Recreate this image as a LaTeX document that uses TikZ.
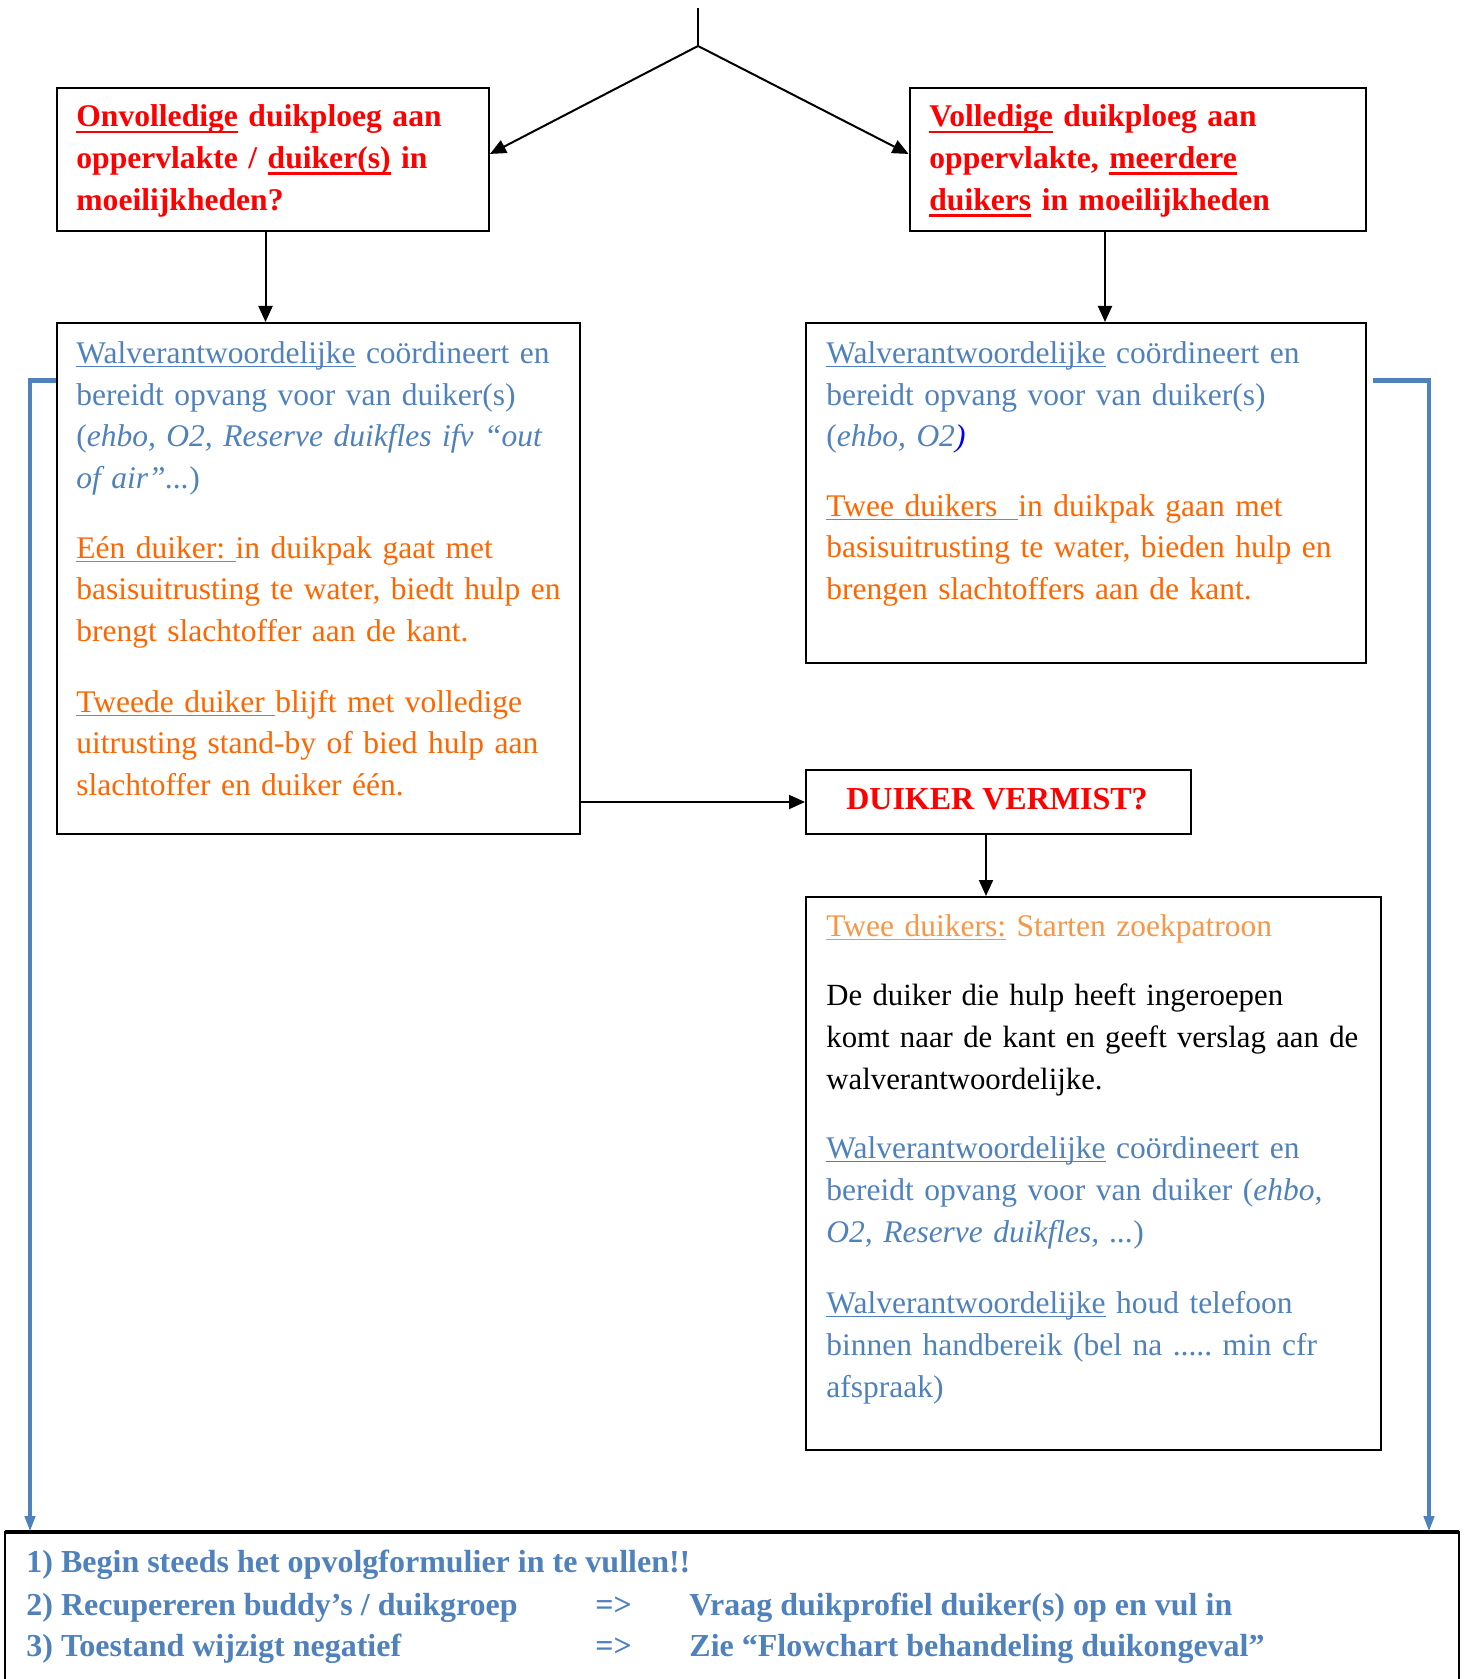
\documentclass[tikz,border=0pt]{standalone}
\usepackage{fontspec}
\setmainfont{Liberation Serif}
\usetikzlibrary{arrows.meta}
\definecolor{wblue}{HTML}{4F81BD}
\definecolor{worange}{HTML}{FF6600}
\definecolor{lorange}{HTML}{F79646}
\definecolor{wred}{HTML}{FF0000}
\definecolor{pblue}{HTML}{0000FF}
\newsavebox\myulbox
\newcommand\ulr[1]{\leavevmode\sbox\myulbox{#1}\rlap{\rule[-1.9pt]{\wd\myulbox}{0.6pt}}\usebox\myulbox}
\newcommand\ulb[1]{\leavevmode\sbox\myulbox{#1}\rlap{\rule[-3.2pt]{\wd\myulbox}{1.4pt}}\usebox\myulbox}
\tikzset{
  boxnode/.style={draw, line width=1pt, anchor=north west, inner sep=0pt},
  txt/.style={anchor=base west, inner sep=0pt, align=left, text width=295pt,
    font=\fontsize{15.75}{20.9}\selectfont\frenchspacing},
  btxt/.style={txt, text=wred, font=\fontsize{15.8}{20.9}\selectfont\bfseries\frenchspacing},
  arr/.style={line width=1pt, -{Triangle[length=8pt,width=7pt]}},
  bline/.style={draw=wblue, line width=2.2pt, -{Triangle[length=8pt,width=5pt]}},
  bt/.style={anchor=base west, inner sep=0pt, text=wblue, font=\fontsize{16}{20.9}\selectfont\bfseries}
}
\begin{document}
\begin{tikzpicture}[x=0.5pt,y=-0.5pt]
\useasboundingbox (0,0) rectangle (1464,1679);

% boxes
\node[boxnode, minimum width=216pt, minimum height=71.75pt] (b1) at (56,87) {};
\node[boxnode, minimum width=228pt, minimum height=71.75pt] (b2) at (908.5,87) {};
\node[boxnode, minimum width=261.5pt, minimum height=255.5pt] (b3) at (56,322) {};
\node[boxnode, minimum width=280pt, minimum height=170pt] (b4) at (805,322) {};
\node[boxnode, minimum width=192.5pt, minimum height=32pt] (b5) at (805,769) {};
\node[boxnode, minimum width=287.5pt, minimum height=276.5pt] (b6) at (805,896) {};
\node[anchor=north west, inner sep=0pt, minimum width=726.5pt, minimum height=73.5pt] (bot) at (5,1532) {};
\draw[line width=1pt] (bot.south west) -- (bot.north west) -- (bot.north east) -- (bot.south east);
\draw[line width=1.6pt] (bot.north west) -- (bot.north east);

% texts box 1 and 2
\node[btxt] (t1) at (76,127)
  {\ulb{Onvolledige} duikploeg aan\\oppervlakte / \ulb{duiker(s)} in\\moeilijkheden?};
\node[btxt] (t2) at (929,127)
  {\ulb{Volledige} duikploeg aan\\oppervlakte, \ulb{meerdere}\\\ulb{duikers} in moeilijkheden};

% box 3
\node[txt, text=wblue] (t3a) at (76,363.4)
  {\ulr{Walverantwoordelijke} coördineert en\\bereidt opvang voor van duiker(s)\\(\textit{ehbo, O2, Reserve duikfles ifv “out}\\\textit{of air”...})};
\node[txt, text=worange] (t3b) at (76,558)
  {\ulr{Eén duiker:\ }in duikpak gaat met\\basisuitrusting te water, biedt hulp en\\brengt slachtoffer aan de kant.};
\node[txt, text=worange] (t3c) at (76,712)
  {\ulr{Tweede duiker\ }blijft met volledige\\uitrusting stand-by of bied hulp aan\\slachtoffer en duiker één.};

% box 4
\node[txt, text=wblue] (t4a) at (826,363.3)
  {\ulr{Walverantwoordelijke} coördineert en\\bereidt opvang voor van duiker(s)\\(\textit{ehbo, O2}{\color{pblue}\textit{)}}};
\node[txt, text=worange] (t4b) at (826,516)
  {\ulr{Twee duikers\ \ }in duikpak gaan met\\basisuitrusting te water, bieden hulp en\\brengen slachtoffers aan de kant.};

% box 5
\node[inner sep=0pt, anchor=base, text=wred, font=\fontsize{16}{20.9}\selectfont\bfseries] (t5) at (997,809.4) {DUIKER VERMIST?};

% box 6
\node[txt, text=lorange] (t6a) at (826,936.6) {\ulr{Twee duikers:} Starten zoekpatroon};
\node[txt, text=black, font=\fontsize{15.4}{20.9}\selectfont\frenchspacing] (t6b) at (826,1005.8)
  {De duiker die hulp heeft ingeroepen\\komt naar de kant en geeft verslag aan de\\walverantwoordelijke.};
\node[txt, text=wblue] (t6c) at (826,1158.5)
  {\ulr{Walverantwoordelijke} coördineert en\\bereidt opvang voor van duiker (\textit{ehbo,}\\\textit{O2, Reserve duikfles, ...})};
\node[txt, text=wblue] (t6d) at (826,1313.4)
  {\ulr{Walverantwoordelijke} houd telefoon\\binnen handbereik (bel na ..... min cfr\\afspraak)};

% bottom texts
\node[bt] (l1) at (26,1572.7) {1) Begin steeds het opvolgformulier in te vullen!!};
\node[bt] (l2a) at (26,1615) {2) Recupereren buddy’s / duikgroep};
\node[bt] (l2b) at (595,1615) {=>};
\node[bt] (l2c) at (689,1615) {Vraag duikprofiel duiker(s) op en vul in};
\node[bt] (l3a) at (26,1656.7) {3) Toestand wijzigt negatief};
\node[bt] (l3b) at (595,1656.7) {=>};
\node[bt] (l3c) at (689,1656.7) {Zie “Flowchart behandeling duikongeval”};

% connectors
\coordinate (top) at (698,8);
\coordinate (fork) at (698,46);
\draw[line width=1pt] (top) -- (fork);
\draw[arr] (fork) -- ([yshift=2.9pt]b1.east);
\draw[arr] (fork) -- ([yshift=2.9pt]b2.west);
\draw[arr] ([xshift=-3.75pt]b1.south) -- ([xshift=-3.75pt]b1.south |- b3.north);
\draw[arr] ([xshift=-16.25pt]b2.south) -- ([xshift=-16.25pt]b2.south |- b4.north);
\draw[arr] (b3.east |- b5.west) -- (b5.west);
\draw[arr] ([xshift=-6.25pt]b5.south) -- ([xshift=-6.25pt]b5.south |- b6.north);

\coordinate (lcorner) at (30,380.5);
\coordinate (rstart) at (1373,380.5);
\coordinate (rcorner) at (1429,380.5);
\draw[bline] (b3.west |- lcorner) -- (lcorner) -- (lcorner |- bot.north);
\draw[bline] (rstart) -- (rcorner) -- (rcorner |- bot.north);
\end{tikzpicture}
\end{document}
